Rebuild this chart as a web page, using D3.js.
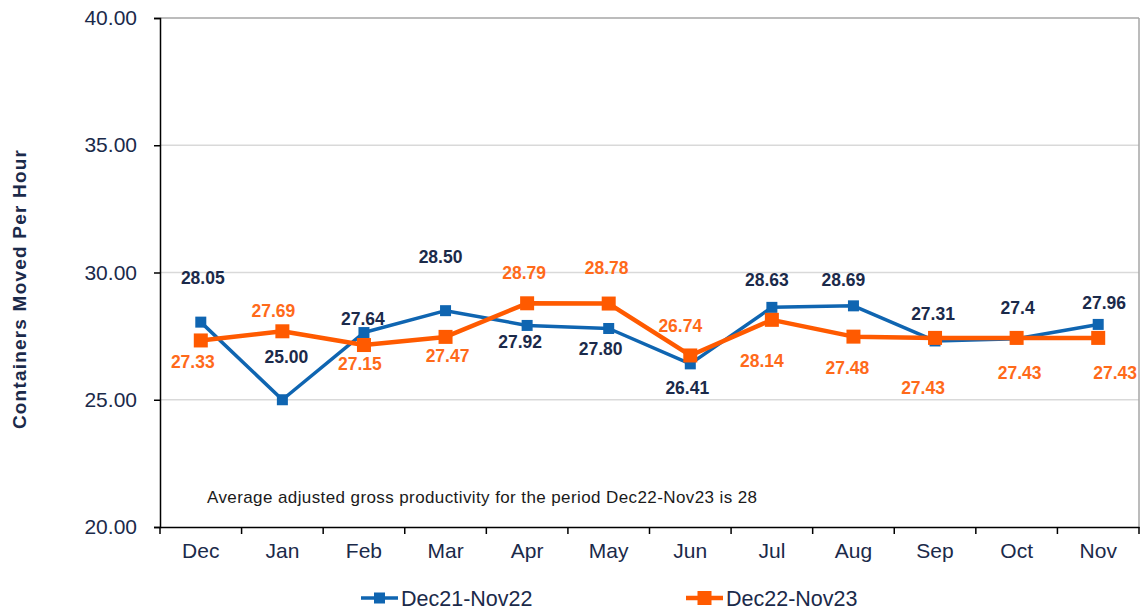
<!DOCTYPE html>
<html>
<head>
<meta charset="utf-8">
<script src="https://cdn.jsdelivr.net/npm/d3@7"></script>
<style>
  html, body { margin: 0; padding: 0; background: #fff; }
  svg { display: block; font-family: "Liberation Sans", Arial, sans-serif; }
</style>
</head>
<body>
<svg id="chart" width="1144" height="613"></svg>
<script>
// ---- data ----
const months = ["Dec","Jan","Feb","Mar","Apr","May","Jun","Jul","Aug","Sep","Oct","Nov"];
const seriesNames = ["Dec21-Nov22", "Dec22-Nov23"];
const valuesPrev = [28.05, 25.00, 27.64, 28.50, 27.92, 27.80, 26.41, 28.63, 28.69, 27.31, 27.4, 27.96];
const valuesCurr = [27.33, 27.69, 27.15, 27.47, 28.79, 28.78, 26.74, 28.14, 27.48, 27.43, 27.43, 27.43];
const labelsPrev = ["28.05","25.00","27.64","28.50","27.92","27.80","26.41","28.63","28.69","27.31","27.4","27.96"];
const labelsCurr = ["27.33","27.69","27.15","27.47","28.79","28.78","26.74","28.14","27.48","27.43","27.43","27.43"];
const yTicks = [20, 25, 30, 35, 40];
const yTitle = "Containers Moved Per Hour";
const note = "Average adjusted gross productivity for the period Dec22-Nov23 is 28";

// ---- label layout (manual offsets from the point, as in the source) ----
const offPrevX = [2, 4, -1, -5, -7, -8, -3, -5, -10, -2, 1, 6];
const offPrevY = [-44, -43, -14, -54, 16, 20, 24, -27, -26, -27, -31, -22];
const offCurrX = [-8, -9, -4, 2, -3, -2, -10, -10, -6, -12, 3, 17];
const offCurrY = [21, -20, 19, 19, -30, -36, -30, 41, 31, 50, 35, 35];

// ---- layout ----
const plotLeft = 160, plotRight = 1139, plotTop = 18, plotBottom = 527;
const blue = "#0f65b1", orange = "#ff5a00";
const navy = "#1b2a4a", orangeText = "#ff6a1a";

const svg = d3.select("#chart");
const x = d3.scaleBand().domain(months).range([plotLeft, plotRight]).padding(0);
const y = d3.scaleLinear().domain([20, 40]).range([plotBottom, plotTop]);

// gridlines
svg.append("g").selectAll("line").data(yTicks.filter(d => d > 20 && d < 40)).join("line")
  .attr("x1", plotLeft).attr("x2", plotRight)
  .attr("y1", d => y(d)).attr("y2", d => y(d))
  .attr("stroke", "#d9d9d9").attr("stroke-width", 1.5);
// plot border top & right
svg.append("line").attr("x1", plotLeft).attr("x2", plotRight).attr("y1", y(40)).attr("y2", y(40))
  .attr("stroke", "#a6a6a6").attr("stroke-width", 1.5);
svg.append("line").attr("x1", plotRight).attr("x2", plotRight).attr("y1", y(40)).attr("y2", plotBottom)
  .attr("stroke", "#a6a6a6").attr("stroke-width", 1.5);

// y axis
const yAxis = svg.append("g").attr("transform", `translate(${plotLeft},0)`)
  .call(d3.axisLeft(y).tickValues(yTicks).tickFormat(d3.format(".2f")).tickSize(6).tickPadding(17));
yAxis.select(".domain").attr("stroke", "#000").attr("stroke-width", 1.5);
yAxis.selectAll(".tick line").attr("stroke", "#000").attr("stroke-width", 1.5);
yAxis.selectAll(".tick text").attr("fill", navy).attr("font-size", 21)
  .attr("font-family", "'Liberation Sans', Arial, sans-serif");

// x axis (ticks at band boundaries)
const xAxis = svg.append("g").attr("transform", `translate(0,${plotBottom})`)
  .call(d3.axisBottom(x).tickSize(0).tickPadding(16));
xAxis.select(".domain").attr("stroke", "#000").attr("stroke-width", 1.5);
xAxis.selectAll(".tick text").attr("fill", navy).attr("font-size", 21)
  .attr("font-family", "'Liberation Sans', Arial, sans-serif");
const bounds = months.map(m => x(m)).concat([x(months[months.length - 1]) + x.bandwidth()]);
svg.append("g").selectAll("line").data(bounds).join("line")
  .attr("x1", d => d).attr("x2", d => d).attr("y1", plotBottom).attr("y2", plotBottom + 7)
  .attr("stroke", "#000").attr("stroke-width", 1.5);

// y title
svg.append("text")
  .attr("transform", `translate(26,289) rotate(-90)`)
  .attr("text-anchor", "middle").attr("font-size", 19).attr("font-weight", "bold")
  .attr("fill", navy).attr("letter-spacing", 1.2).text(yTitle);

// note
svg.append("text").attr("x", 207).attr("y", 503).attr("font-size", 17)
  .attr("fill", "#1a1a1a").attr("letter-spacing", 0.4).text(note);

const cx = m => x(m) + x.bandwidth() / 2;
const line = d3.line().x((d, i) => cx(months[i])).y(d => y(d));

function drawSeries(vals, color, lw, ms) {
  svg.append("path").datum(vals).attr("d", line)
    .attr("fill", "none").attr("stroke", color).attr("stroke-width", lw).attr("stroke-linejoin", "round");
  svg.append("g").selectAll("rect").data(vals).join("rect")
    .attr("x", (d, i) => cx(months[i]) - ms / 2).attr("y", d => y(d) - ms / 2)
    .attr("width", ms).attr("height", ms).attr("fill", color);
}
drawSeries(valuesPrev, blue, 3.5, 11);
drawSeries(valuesCurr, orange, 4.5, 14);

function drawLabels(vals, labs, ox, oy, color) {
  svg.append("g").selectAll("text").data(vals).join("text")
    .attr("x", (d, i) => cx(months[i]) + ox[i])
    .attr("y", (d, i) => y(d) + oy[i])
    .attr("dy", "0.35em")
    .attr("text-anchor", "middle").attr("font-size", 17.5).attr("font-weight", "bold")
    .attr("fill", color).text((d, i) => labs[i]);
}
drawLabels(valuesPrev, labelsPrev, offPrevX, offPrevY, navy);
drawLabels(valuesCurr, labelsCurr, offCurrX, offCurrY, orangeText);

// legend
const legend = [
  { name: seriesNames[0], color: blue, x0: 361, lw: 3.5, ms: 11 },
  { name: seriesNames[1], color: orange, x0: 686, lw: 4.5, ms: 14 }
];
const lg = svg.append("g").selectAll("g").data(legend).join("g")
  .attr("transform", d => `translate(${d.x0},598)`);
lg.append("line").attr("x1", 0).attr("x2", 37).attr("y1", 0).attr("y2", 0)
  .attr("stroke", d => d.color).attr("stroke-width", d => d.lw);
lg.append("rect").attr("x", d => 18.5 - d.ms / 2).attr("y", d => -d.ms / 2)
  .attr("width", d => d.ms).attr("height", d => d.ms).attr("fill", d => d.color);
lg.append("text").attr("x", 40).attr("y", 8).attr("font-size", 21.5)
  .attr("fill", navy).text(d => d.name);
</script>
</body>
</html>
